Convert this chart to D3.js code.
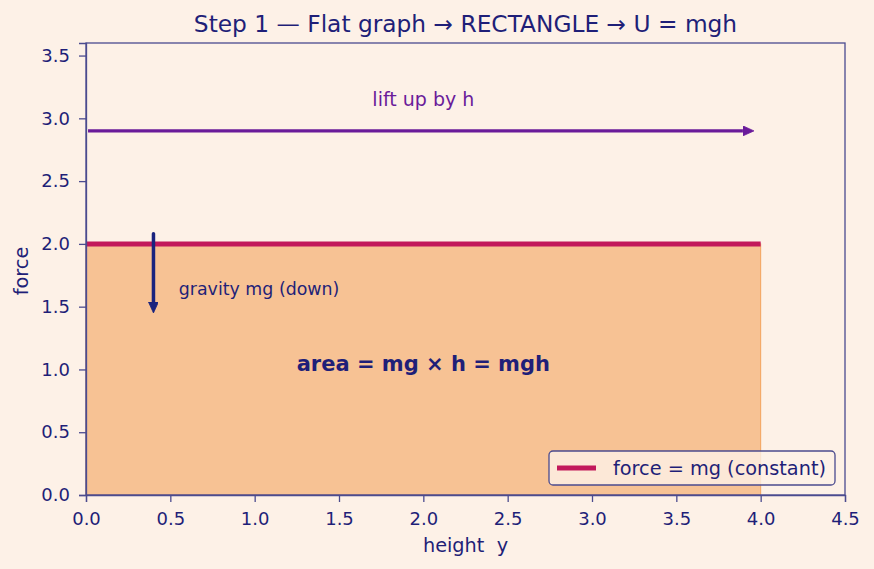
<!DOCTYPE html>
<html>
<head>
<meta charset="utf-8">
<script src="https://cdn.jsdelivr.net/npm/d3@7"></script>
<style>
  body { margin: 0; background: #fdf1e7; }
  svg { display: block; font-family: "DejaVu Sans", sans-serif; }
</style>
</head>
<body>
<div id="chart"></div>
<script>
// data
var xTicks = [0, 0.5, 1, 1.5, 2, 2.5, 3, 3.5, 4, 4.5];
var yTicks = [0, 0.5, 1, 1.5, 2, 2.5, 3, 3.5];
var forceX = [0, 4];
var forceY = [2, 2];
var liftArrow = [[0.012, 2.9], [3.96, 2.9]];
var gravityArrow = [[0.4, 2.08], [0.4, 1.45]];

var width = 874, height = 569;
var margin = {left: 86, right: 29, top: 43, bottom: 74};
var navy = '#1f1f78';
var spine = '#4b4b8f';
var headLen = 11;

var svg = d3.select('#chart').append('svg')
  .attr('width', width).attr('height', height);

svg.append('rect').attr('width', width).attr('height', height).attr('fill', '#fdf1e7');

var x = d3.scaleLinear().domain([0, 4.5]).range([margin.left, width - margin.right]);
var y = d3.scaleLinear().domain([0, 3.6]).range([height - margin.bottom, margin.top]);

var defs = svg.append('defs');
function marker(id, color){
  defs.append('marker').attr('id', id)
    .attr('viewBox', '0 0 11 10').attr('refX', 0).attr('refY', 5)
    .attr('markerWidth', 11).attr('markerHeight', 10)
    .attr('markerUnits', 'userSpaceOnUse').attr('orient', 'auto')
    .append('path').attr('d', 'M0,0 L11,5 L0,10 Z').attr('fill', color)
    .attr('stroke', color).attr('stroke-width', 0.8).attr('stroke-linejoin', 'round');
}
marker('purp', '#6a1b9a');
marker('navy', '#1a237e');

// area fill
svg.append('rect')
  .attr('x', x(forceX[0])).attr('y', y(forceY[0]))
  .attr('width', x(forceX[1]) - x(forceX[0]))
  .attr('height', y(0) - y(forceY[0]))
  .attr('fill', '#f7c294')
  .attr('stroke', '#f4a25c').attr('stroke-width', 1);

// force line
svg.append('path')
  .datum(d3.zip(forceX, forceY))
  .attr('d', d3.line().x(function(d){ return x(d[0]); }).y(function(d){ return y(d[1]); }))
  .attr('stroke', '#c2185b').attr('stroke-width', 5).attr('fill', 'none');

// lift arrow
svg.append('line')
  .attr('x1', x(liftArrow[0][0])).attr('y1', y(liftArrow[0][1]))
  .attr('x2', x(liftArrow[1][0]) - headLen).attr('y2', y(liftArrow[1][1]))
  .attr('stroke', '#6a1b9a').attr('stroke-width', 3.3)
  .attr('marker-end', 'url(#purp)');

svg.append('text')
  .attr('x', x(2)).attr('y', y(3.1)).attr('dy', 0.5)
  .attr('text-anchor', 'middle').attr('fill', '#6a1b9a')
  .style('font-size', '19px').text('lift up by h');

// gravity arrow
svg.append('line')
  .attr('x1', x(gravityArrow[0][0])).attr('y1', y(gravityArrow[0][1]))
  .attr('x2', x(gravityArrow[1][0])).attr('y2', y(gravityArrow[1][1]) - headLen)
  .attr('stroke', '#1a237e').attr('stroke-width', 3.5)
  .attr('stroke-linecap', 'round')
  .attr('marker-end', 'url(#navy)');

svg.append('text')
  .attr('x', x(0.55)).attr('y', y(1.6)).attr('dy', 0.5)
  .attr('fill', navy).style('font-size', '17.4px').text('gravity mg (down)');

svg.append('text')
  .attr('x', x(2)).attr('y', y(1.0)).attr('dy', 1.5)
  .attr('text-anchor', 'middle').attr('fill', navy)
  .style('font-size', '21px').style('font-weight', 'bold')
  .text('area = mg \u00d7 h = mgh');

// frame
svg.append('rect')
  .attr('x', margin.left).attr('y', margin.top)
  .attr('width', width - margin.left - margin.right)
  .attr('height', height - margin.top - margin.bottom)
  .attr('fill', 'none').attr('stroke', spine).attr('stroke-width', 1.3);

// axes
var xAxis = svg.append('g')
  .attr('transform', 'translate(0,' + (height - margin.bottom) + ')')
  .call(d3.axisBottom(x).tickValues(xTicks).tickFormat(d3.format('.1f')).tickSize(7).tickPadding(10));
var yAxis = svg.append('g')
  .attr('transform', 'translate(' + margin.left + ',0)')
  .call(d3.axisLeft(y).tickValues(yTicks).tickFormat(d3.format('.1f')).tickSize(7).tickPadding(9));

[xAxis, yAxis].forEach(function(a){
  a.select('.domain').attr('stroke', spine).attr('stroke-width', 1.3);
  a.selectAll('.tick line').attr('stroke', spine).attr('stroke-width', 1.3);
  a.selectAll('.tick text').attr('fill', navy).style('font-size', '18px')
    .style('font-family', '"DejaVu Sans", sans-serif');
});

// labels
svg.append('text')
  .attr('x', (margin.left + width - margin.right) / 2).attr('y', 552)
  .attr('text-anchor', 'middle').attr('fill', navy).style('font-size', '19.3px')
  .style('white-space', 'pre').text('height  y');

svg.append('text')
  .attr('transform', 'translate(28,' + ((margin.top + height - margin.bottom) / 2 + 2) + ') rotate(-90)')
  .attr('text-anchor', 'middle').attr('fill', navy).style('font-size', '19.3px')
  .text('force');

svg.append('text')
  .attr('x', (margin.left + width - margin.right) / 2).attr('y', 32)
  .attr('text-anchor', 'middle').attr('fill', navy).style('font-size', '23.3px')
  .text('Step 1 \u2014 Flat graph \u2192 RECTANGLE \u2192 U = mgh');

// legend
var lg = svg.append('g').attr('transform', 'translate(549,451)');
lg.append('rect').attr('width', 286).attr('height', 34).attr('rx', 4)
  .attr('fill', '#fdf1e7').attr('fill-opacity', 0.8)
  .attr('stroke', spine).attr('stroke-width', 1.3);
lg.append('line').attr('x1', 8).attr('x2', 47).attr('y1', 17).attr('y2', 17)
  .attr('stroke', '#c2185b').attr('stroke-width', 5);
lg.append('text').attr('x', 64).attr('y', 17).attr('dy', '0.35em')
  .attr('fill', navy).style('font-size', '19.3px').text('force = mg (constant)');
</script>
</body>
</html>
